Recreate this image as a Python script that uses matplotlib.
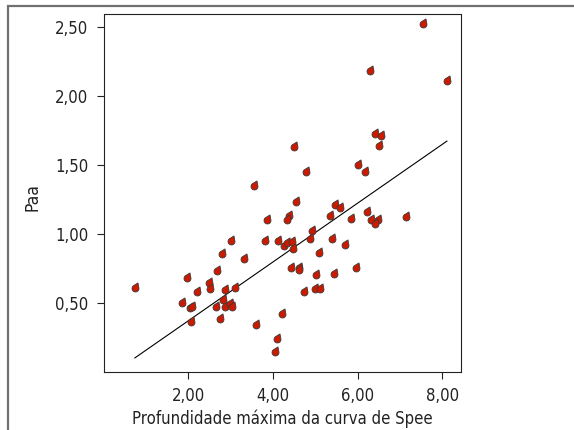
import numpy as np
import matplotlib
matplotlib.use("Agg")
import matplotlib.pyplot as plt
from matplotlib.path import Path
from matplotlib.patches import Rectangle

plt.rcParams['font.family'] = ['DejaVu Sans']
plt.rcParams['font.stretch'] = 'condensed'

# data
prof_spee = [7.54, 6.30, 8.11, 6.41, 6.55, 6.51, 4.49, 6.01, 6.18, 4.78, 3.56, 4.54,
             5.46, 5.58, 5.36, 6.23, 6.32, 6.48, 6.41, 7.14, 5.85, 3.87, 4.37, 4.34,
             4.93, 4.87, 5.39, 5.71, 5.08, 3.01, 3.81, 4.13, 4.26, 4.34, 4.45, 4.47,
             2.79, 3.31, 2.69, 4.43, 4.61, 4.62, 5.96, 5.45, 5.03, 1.97, 2.48, 2.51,
             2.20, 2.86, 3.11, 4.74, 5.00, 5.11, 0.74, 1.86, 2.05, 2.09, 2.82, 2.66,
             2.88, 2.98, 3.03, 2.07, 2.76, 4.22, 3.59, 4.10, 4.04]
paa = [2.52, 2.18, 2.11, 1.72, 1.71, 1.64, 1.63, 1.50, 1.45, 1.45, 1.35, 1.23,
       1.21, 1.19, 1.13, 1.16, 1.10, 1.10, 1.07, 1.12, 1.11, 1.10, 1.13, 1.10,
       1.02, 0.96, 0.96, 0.92, 0.86, 0.95, 0.95, 0.95, 0.91, 0.93, 0.94, 0.89,
       0.85, 0.82, 0.73, 0.75, 0.75, 0.74, 0.75, 0.71, 0.70, 0.68, 0.64, 0.60,
       0.58, 0.59, 0.61, 0.58, 0.60, 0.60, 0.61, 0.50, 0.46, 0.47, 0.52, 0.47,
       0.47, 0.49, 0.47, 0.36, 0.38, 0.42, 0.34, 0.24, 0.14]

# fitted line as printed in the figure
fit_intercept = -0.058
fit_slope = 0.2133

x_ticks = [2, 4, 6, 8]
x_ticklabels = ['2,00', '4,00', '6,00', '8,00']
y_ticks = [0.5, 1.0, 1.5, 2.0, 2.5]
y_ticklabels = ['0,50', '1,00', '1,50', '2,00', '2,50']

# teardrop marker, tip to the upper right
tip = np.deg2rad(66)
th = np.linspace(tip + np.deg2rad(48), tip + 2 * np.pi - np.deg2rad(48), 30)
verts = [(np.cos(t), np.sin(t)) for t in th]
verts.append((1.75 * np.cos(tip), 1.75 * np.sin(tip)))
verts.append(verts[0])
codes = [Path.MOVETO] + [Path.LINETO] * (len(verts) - 2) + [Path.CLOSEPOLY]
drop = Path(verts, codes)

fig = plt.figure(figsize=(5.74, 4.30), dpi=100)
ax = fig.add_axes([103.5 / 574, 1 - 371.7 / 430, 357.8 / 574, 357.2 / 430])

# outer frame
fig.patches.append(Rectangle((8.3 / 574, -0.1), 1.2, 1.1 - 5.7 / 430,
                             transform=fig.transFigure, fill=False,
                             edgecolor='#707070', linewidth=1.6))

ax.scatter(prof_spee, paa, marker=drop, s=64, facecolor='#cc1a00',
           edgecolor='#3a3a3a', linewidth=0.6, zorder=3)

xs = np.array([min(prof_spee), max(prof_spee)])
ax.plot(xs, fit_intercept + fit_slope * xs, color='black', linewidth=0.8, zorder=2)

ax.set_xlim(0, 8.45)
ax.set_ylim(0, 2.59)
ax.set_xticks(x_ticks)
ax.set_xticklabels(x_ticklabels)
ax.set_yticks(y_ticks)
ax.set_yticklabels(y_ticklabels)
ax.tick_params(direction='out', length=5, width=0.8, labelsize=12, pad=6,
               colors='#222222')
for s in ax.spines.values():
    s.set_linewidth(0.8)
    s.set_color('#222222')

ax.set_xlabel('Profundidade máxima da curva de Spee', fontsize=12, color='#222222', labelpad=3)
ax.set_ylabel('Paa', fontsize=12.5, color='#222222')
ax.yaxis.set_label_coords(-0.173, 0.49)

fig.savefig('out.png', dpi=100)
